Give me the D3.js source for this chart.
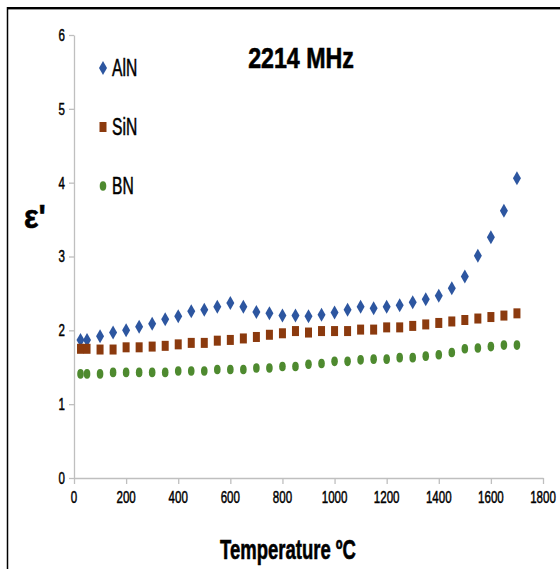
<!DOCTYPE html>
<html>
<head>
<meta charset="utf-8">
<script src="https://cdn.jsdelivr.net/npm/d3@7"></script>
<style>
  body { margin: 0; background: #fff; }
  svg { display: block; font-family: "Liberation Sans", Arial, sans-serif; }
</style>
</head>
<body>
<div id="chart"></div>
<script>
// temperatures (ºC)
const temps = [25, 50, 100, 150, 200, 250, 300, 350, 400, 450, 500, 550, 600, 650, 700, 750, 800, 850,
               900, 950, 1000, 1050, 1100, 1150, 1200, 1250, 1300, 1350, 1400, 1450, 1500, 1550, 1600, 1650, 1700];

const alnValues = [1.87, 1.87, 1.92, 1.97, 2.00, 2.05, 2.09, 2.15, 2.19, 2.26, 2.28, 2.32, 2.37, 2.32, 2.25, 2.23, 2.20, 2.20,
                   2.19, 2.21, 2.24, 2.28, 2.32, 2.30, 2.32, 2.34, 2.38, 2.42, 2.47, 2.57, 2.73, 3.01, 3.26, 3.62, 4.06];
const sinValues = [1.75, 1.75, 1.74, 1.74, 1.77, 1.77, 1.78, 1.79, 1.81, 1.83, 1.83, 1.86, 1.87, 1.89, 1.91, 1.94, 1.96, 1.99,
                   1.97, 1.99, 1.99, 1.99, 2.01, 2.01, 2.04, 2.04, 2.06, 2.08, 2.10, 2.12, 2.14, 2.16, 2.18, 2.20, 2.23];
const bnValues  = [1.41, 1.41, 1.41, 1.43, 1.43, 1.43, 1.43, 1.43, 1.45, 1.45, 1.45, 1.47, 1.47, 1.47, 1.49, 1.49, 1.51, 1.51,
                   1.54, 1.55, 1.58, 1.58, 1.60, 1.61, 1.61, 1.63, 1.63, 1.65, 1.67, 1.70, 1.75, 1.76, 1.78, 1.80, 1.80];

const seriesNames = ['AlN', 'SiN', 'BN'];
const xTicks = [0, 200, 400, 600, 800, 1000, 1200, 1400, 1600, 1800];
const yTicks = [0, 1, 2, 3, 4, 5, 6];

const width = 560, height = 569;
const svg = d3.select('#chart').append('svg')
    .attr('width', width)
    .attr('height', height);

// frame lines (top and left only)
svg.append('line').attr('x1', 7).attr('x2', width).attr('y1', 8).attr('y2', 8)
    .attr('stroke', '#000').attr('stroke-width', 2);
svg.append('line').attr('x1', 7).attr('x2', width).attr('y1', 9.5).attr('y2', 9.5)
    .attr('stroke', '#999').attr('stroke-width', 1);
svg.append('line').attr('x1', 7.5).attr('x2', 7.5).attr('y1', 7).attr('y2', height)
    .attr('stroke', '#000').attr('stroke-width', 1.5);

const x = d3.scaleLinear().domain([0, 1800]).range([74, 543]);
const y = d3.scaleLinear().domain([0, 6]).range([478, 35]);

// condensed text helper
function label(text, px, py, size, opts = {}) {
    return svg.append('text')
        .attr('transform', `translate(${px},${py}) scale(${opts.sx || 0.68},1)`)
        .attr('text-anchor', opts.anchor || 'middle')
        .attr('dominant-baseline', 'central')
        .attr('font-size', size)
        .attr('font-weight', opts.bold ? 'bold' : 'normal')
        .attr('fill', '#000')
        .attr('stroke', '#000')
        .attr('stroke-width', opts.bold ? 0.6 : 0.5)
        .text(text);
}

// axes
const xAxis = svg.append('g').attr('transform', 'translate(0,478)')
    .call(d3.axisBottom(x).tickValues(xTicks).tickSize(6).tickSizeOuter(0).tickFormat(''));
const yAxis = svg.append('g').attr('transform', 'translate(74,0)')
    .call(d3.axisLeft(y).tickValues(yTicks).tickSize(5).tickSizeOuter(0).tickFormat(''));
[xAxis, yAxis].forEach(a => {
    a.selectAll('path, line').attr('stroke', '#bfbfbf').attr('stroke-width', 1.3);
});

xTicks.forEach(t => label(t, x(t), 497, 17, { anchor: 'middle' }));
yTicks.forEach(t => label(t, 65, y(t), 17, { anchor: 'end' }));

// marker shapes (narrow, like the squeezed original)
const markers = {
    AlN: (g, c) => g.append('path').attr('d', 'M0,-7 L4,0 L0,7 L-4,0 Z').attr('fill', c),
    SiN: (g, c) => g.append('rect').attr('x', -3.5).attr('y', -5).attr('width', 7).attr('height', 10).attr('fill', c),
    BN:  (g, c) => g.append('ellipse').attr('rx', 3.3).attr('ry', 4.8).attr('fill', c)
};
const colors = { AlN: '#2d56a0', SiN: '#8b3a0e', BN: '#4e8a2f' };
const seriesData = { AlN: alnValues, SiN: sinValues, BN: bnValues };

seriesNames.forEach(name => {
    const g = svg.append('g');
    temps.forEach((t, i) => {
        const m = g.append('g').attr('transform', `translate(${x(t)},${y(seriesData[name][i])})`);
        markers[name](m, colors[name]);
    });
});

// legend
const legendY = [68, 127, 186];
seriesNames.forEach((name, i) => {
    const m = svg.append('g').attr('transform', `translate(103,${legendY[i]})`);
    markers[name](m, colors[name]);
    label(name, 112, legendY[i], 23, { anchor: 'start' });
});

// titles
label('2214 MHz', 301, 58, 29, { bold: true, sx: 0.8 });
label('Temperature ºC', 288, 550, 28, { bold: true, sx: 0.66 });
label("ε'", 35, 216, 34, { bold: true, sx: 0.9 });
</script>
</body>
</html>
